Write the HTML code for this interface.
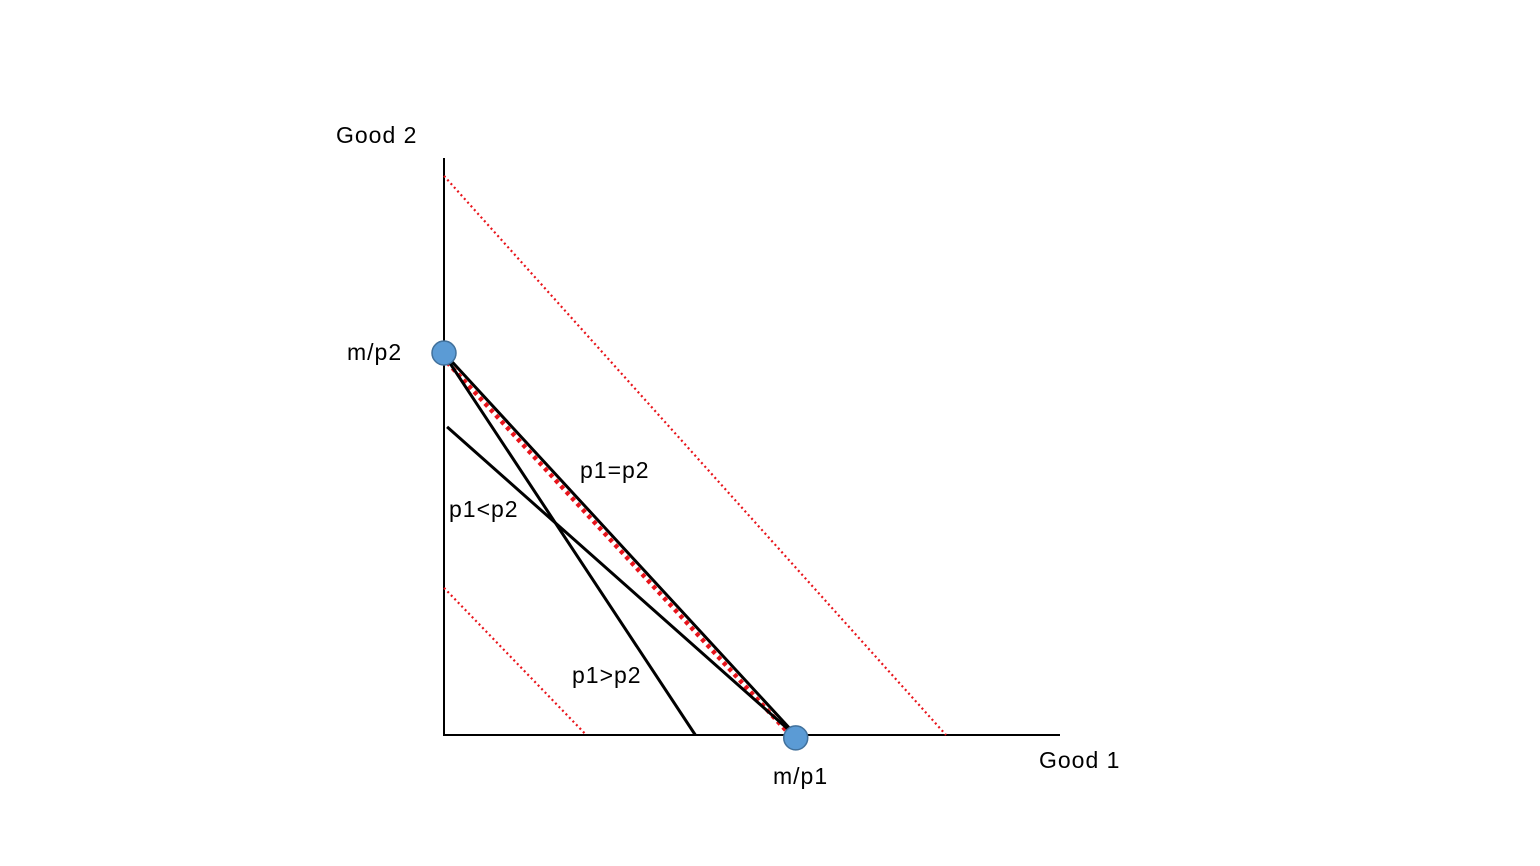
<!DOCTYPE html>
<html><head><meta charset="utf-8"><style>
html,body{margin:0;padding:0;background:#fff;}
svg{display:block;}
text{font-family:"Liberation Sans",sans-serif;font-size:23px;letter-spacing:1px;fill:#000;}
</style></head><body>
<svg id="chart" width="1540" height="866">
<g id="marks"></g>
<text x="336" y="143">Good 2</text>
<text x="1039" y="768">Good 1</text>
<text x="347" y="360">m/p2</text>
<text x="773" y="784">m/p1</text>
<text x="580" y="478">p1=p2</text>
<text x="449" y="517">p1&lt;p2</text>
<text x="572" y="683">p1&gt;p2</text>
</svg>
<script>
const lineNames = ["upper-red-dotted","lower-red-dotted","p1-equals-p2-line","p1-equals-p2-red-dotted","p1-greater-p2-line","p1-less-p2-line"];
const lineX1 = [0, 0, 0, 0.5, 0, 0.5];
const lineY1 = [96.9, 25.5, 66.2, 64.6, 66.0, 53.4];
const lineX2 = [81.5, 23.1, 57.1, 56.2, 40.8, 56.6];
const lineY2 = [0, 0, 0, 0, 0, 0.3];
const pointNames = ["m-over-p2-point","m-over-p1-point"];
const pointX = [0, 57.1];
const pointY = [66.2, -0.5];
const styles = [
 {s:"#e8141b",w:2.2,d:"2 3"},{s:"#e8141b",w:2.2,d:"2 3"},{s:"#000",w:3,d:""},
 {s:"#e8141b",w:4.5,d:"4 4"},{s:"#000",w:3,d:""},{s:"#000",w:3,d:""}];
const X = v => 444 + v * 6.16;
const Y = v => 735 - v * 5.77;
const ns = "http://www.w3.org/2000/svg";
const g = document.getElementById("marks");
function mk(tag, attrs){const e=document.createElementNS(ns,tag);for(const k in attrs)e.setAttribute(k,attrs[k]);g.appendChild(e);return e;}
let ax = mk("line",{x1:444,y1:158,x2:444,y2:735,stroke:"#000","stroke-width":2});


ax = mk("line",{x1:443,y1:735,x2:1060,y2:735,stroke:"#000","stroke-width":2});


for(let i=0;i<lineNames.length;i++){
 const st=styles[i];
 const l=mk("line",{x1:X(lineX1[i]),y1:Y(lineY1[i]),x2:X(lineX2[i]),y2:Y(lineY2[i]),stroke:st.s,"stroke-width":st.w});
 if(st.d) l.setAttribute("stroke-dasharray",st.d);
 
 
}
for(let i=0;i<pointNames.length;i++){
 const c=mk("circle",{cx:X(pointX[i]),cy:Y(pointY[i]),r:12,fill:"#5b9bd5",stroke:"#41719c","stroke-width":1.5});
 
 
}
</script>
</body></html>
